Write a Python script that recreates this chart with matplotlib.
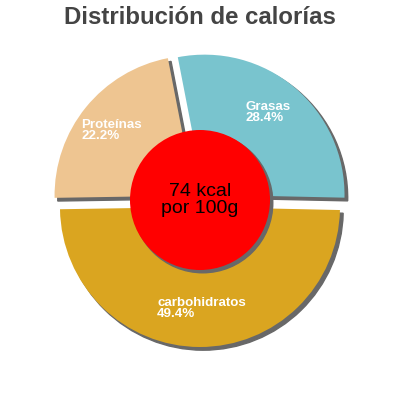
import matplotlib
matplotlib.use('Agg')
import matplotlib.pyplot as plt
import matplotlib.patches as mpatches

# Data
nutrients = ['Grasas', 'carbohidratos', 'Proteínas']
percents = [28.4, 49.4, 22.2]
colors = ['#79c4ce', '#daa520', '#eec591']
kcal_text = '74 kcal\npor 100g'
title = 'Distribución de calorías'

# label anchor points (pixels from top-left of the image)
label_pos = [(246, 101), (157, 297), (81, 119)]

plt.rcParams['font.family'] = ['Liberation Sans', 'DejaVu Sans']

fig = plt.figure(figsize=(4, 4), dpi=100)
ax = fig.add_axes([0, 0, 1, 1])

shadow_style = {'ox': 2.3, 'oy': -2.3, 'facecolor': '#686868',
                'edgecolor': '#686868', 'alpha': 1}

# explode is in data units here (pixels)
ax.pie(percents, colors=colors, startangle=101, counterclock=False,
       explode=[7] * len(percents), radius=140, center=(200, 200),
       shadow=shadow_style, frame=True)
ax.set_xlim(0, 400)
ax.set_ylim(0, 400)
ax.set_aspect('equal')
ax.axis('off')

# red centre disc
disc = mpatches.Circle((200, 200), 70, facecolor='#ff0000', edgecolor='none', zorder=3)
disc_shadow = mpatches.Shadow(disc, 2.0, -2.0, facecolor='#686868',
                              edgecolor='#686868', alpha=1, zorder=2.9)
ax.add_patch(disc_shadow)
ax.add_patch(disc)
ax.text(200, 200, kcal_text, ha='center', va='center', fontsize=14,
        color='black', linespacing=1.0, zorder=4)

for name, pct, (x, y) in zip(nutrients, percents, label_pos):
    ax.text(x, 400 - y, f'{name}\n{pct:.1f}%', ha='left', va='top',
            fontsize=9.6, color='white', fontweight='bold', linespacing=0.92, zorder=4)

ax.text(200, 400 - 18, title, ha='center', va='center', fontsize=17.3,
        fontweight='bold', color='#444444')

fig.savefig('out.png', dpi=100)
